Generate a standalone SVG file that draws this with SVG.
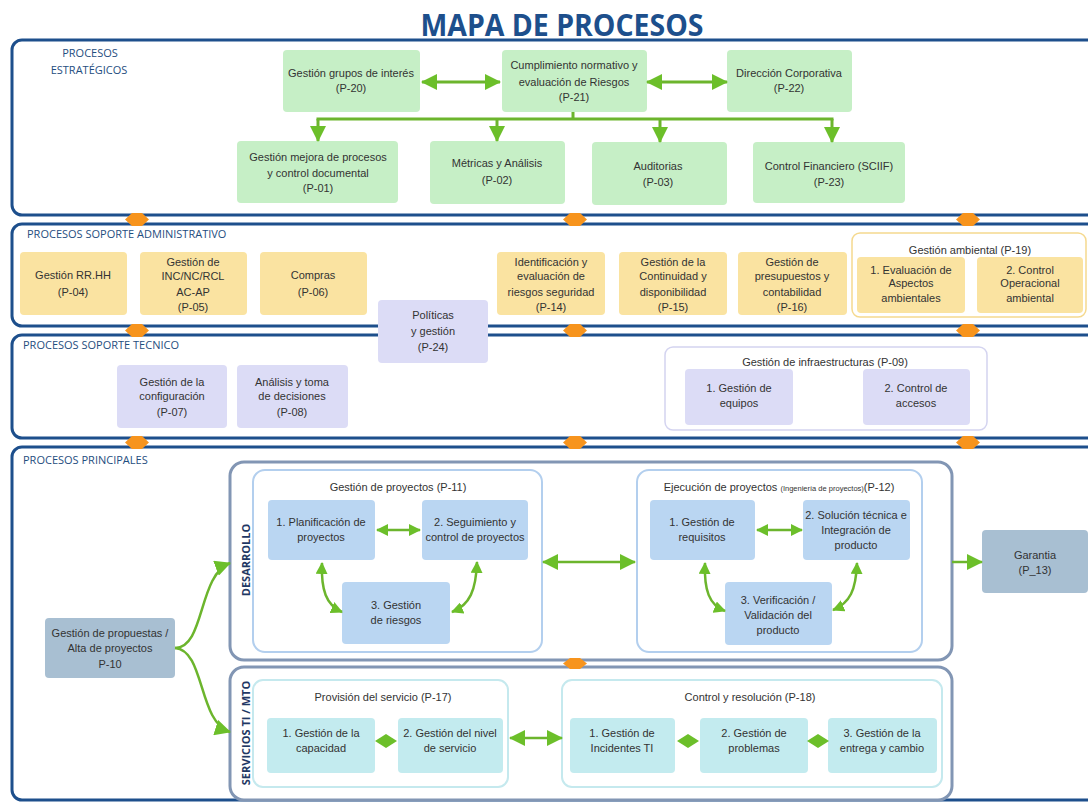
<svg xmlns="http://www.w3.org/2000/svg" width="1088" height="803" viewBox="0 0 1088 803">
<style>
.sec{fill:none;stroke:#1d4f8c;stroke-width:3}
.lbl{font-family:"Open Sans","Liberation Sans",sans-serif;font-size:11px;fill:#1f4e80}
.vl{font-family:"Open Sans","Liberation Sans",sans-serif;font-size:11px;font-weight:bold;fill:#1f3864;text-anchor:middle}
.t{font-family:"Liberation Sans",Arial,sans-serif;font-size:11px;fill:#333;text-anchor:middle}
.ts{font-size:7.5px}
.g{fill:#c6efc6}
.y{fill:#fae3a1}
.v{fill:#dcdcf6}
.b{fill:#bad6f2}
.c{fill:#c3ebef}
.s{fill:#a8bfd2}
.cn{fill:none;stroke:#6cb52d;stroke-width:2.5}
.cnL{fill:none;stroke:#6cb52d;stroke-width:3}
.or{fill:#f7941d}
.dm{fill:#6cbf2a}
.grp{fill:#fff;stroke:#8296b4;stroke-width:3}
.sub{fill:#fff;stroke:#b3cfee;stroke-width:2}
.subc{fill:#fff;stroke:#c5e9ee;stroke-width:2}
</style>
<defs>
<marker id="aL" viewBox="0 0 16 16" markerWidth="16" markerHeight="16" refX="15" refY="8" orient="auto-start-reverse" markerUnits="userSpaceOnUse"><path d="M0,0 L16,8 L0,16 z" fill="#6cbf2a"/></marker>
<marker id="aS" viewBox="0 0 12 12" markerWidth="12" markerHeight="12" refX="11" refY="6" orient="auto-start-reverse" markerUnits="userSpaceOnUse"><path d="M0,0 L12,6 L0,12 z" fill="#6cbf2a"/></marker>
</defs>
<rect x="0" y="0" width="1088" height="803" fill="#fff"/>
<text x="562" y="36" font-family="'Open Sans','Liberation Sans',sans-serif" font-weight="bold" font-size="31" fill="#1d4f8c" text-anchor="middle" textLength="283" lengthAdjust="spacingAndGlyphs">MAPA DE PROCESOS</text>

<g id="sections">
<rect class="sec" x="12" y="40" width="1090" height="175" rx="10"/>
<rect class="sec" x="12" y="224" width="1090" height="102" rx="10"/>
<rect class="sec" x="12" y="335" width="1090" height="103" rx="10"/>
<rect class="sec" x="12" y="447" width="1090" height="353" rx="10"/>
<text class="lbl" x="90" y="57" text-anchor="middle">PROCESOS</text>
<text class="lbl" x="89" y="74" text-anchor="middle">ESTRATÉGICOS</text>
<text class="lbl" x="27" y="238">PROCESOS SOPORTE ADMINISTRATIVO</text>
<text class="lbl" x="23" y="349">PROCESOS SOPORTE TECNICO</text>
<text class="lbl" x="23" y="464">PROCESOS PRINCIPALES</text>
</g>

<g id="section-links">
<path class="or" d="M125,219.5 L132,213 L142,213 L149,219.5 L142,226 L132,226 Z"/>
<path class="or" d="M563,219.5 L570,213 L580,213 L587,219.5 L580,226 L570,226 Z"/>
<path class="or" d="M956,219.5 L963,213 L973,213 L980,219.5 L973,226 L963,226 Z"/>
<path class="or" d="M125,330.5 L132,324 L142,324 L149,330.5 L142,337 L132,337 Z"/>
<path class="or" d="M563,330.5 L570,324 L580,324 L587,330.5 L580,337 L570,337 Z"/>
<path class="or" d="M956,330.5 L963,324 L973,324 L980,330.5 L973,337 L963,337 Z"/>
<path class="or" d="M125,442.5 L132,436 L142,436 L149,442.5 L142,449 L132,449 Z"/>
<path class="or" d="M563,442.5 L570,436 L580,436 L587,442.5 L580,449 L570,449 Z"/>
<path class="or" d="M956,442.5 L963,436 L973,436 L980,442.5 L973,449 L963,449 Z"/>
</g>

<!-- Estratégicos -->
<g id="p20"><rect class="g" x="283" y="50" width="137" height="62" rx="4"/><text class="t"><tspan x="351" y="77">Gestión grupos de interés</tspan><tspan x="351" y="92">(P-20)</tspan></text></g>
<g id="p21"><rect class="g" x="502" y="50" width="145" height="62" rx="4"/><text class="t"><tspan x="574" y="69">Cumplimiento normativo y</tspan><tspan x="574" y="86">evaluación de Riesgos</tspan><tspan x="574" y="101">(P-21)</tspan></text></g>
<g id="p22"><rect class="g" x="727" y="50" width="125" height="62" rx="4"/><text class="t"><tspan x="789" y="77">Dirección Corporativa</tspan><tspan x="789" y="92">(P-22)</tspan></text></g>
<g id="p01"><rect class="g" x="237" y="141" width="161" height="62" rx="4"/><text class="t"><tspan x="318" y="161">Gestión mejora de procesos</tspan><tspan x="318" y="177">y control documental</tspan><tspan x="318" y="192">(P-01)</tspan></text></g>
<g id="p02"><rect class="g" x="430" y="141" width="135" height="63" rx="4"/><text class="t"><tspan x="497" y="167">Métricas y Análisis</tspan><tspan x="497" y="184">(P-02)</tspan></text></g>
<g id="p03"><rect class="g" x="592" y="142" width="135" height="63" rx="4"/><text class="t"><tspan x="658" y="170">Auditorias</tspan><tspan x="658" y="186">(P-03)</tspan></text></g>
<g id="p23"><rect class="g" x="753" y="142" width="152" height="61" rx="4"/><text class="t"><tspan x="829" y="170">Control Financiero (SCIIF)</tspan><tspan x="829" y="186">(P-23)</tspan></text></g>

<!-- Soporte administrativo -->
<g id="p04"><rect class="y" x="20" y="252" width="107" height="63" rx="4"/><text class="t"><tspan x="73" y="279">Gestión RR.HH</tspan><tspan x="73" y="296">(P-04)</tspan></text></g>
<g id="p05"><rect class="y" x="140" y="252" width="107" height="63" rx="4"/><text class="t"><tspan x="193" y="266">Gestión de</tspan><tspan x="193" y="280">INC/NC/RCL</tspan><tspan x="193" y="296">AC-AP</tspan><tspan x="193" y="311">(P-05)</tspan></text></g>
<g id="p06"><rect class="y" x="260" y="252" width="107" height="63" rx="4"/><text class="t"><tspan x="313" y="279">Compras</tspan><tspan x="313" y="296">(P-06)</tspan></text></g>
<g id="p14"><rect class="y" x="497" y="252" width="108" height="63" rx="4"/><text class="t"><tspan x="551" y="266">Identificación y</tspan><tspan x="551" y="280">evaluación de</tspan><tspan x="551" y="296">riesgos seguridad</tspan><tspan x="551" y="311">(P-14)</tspan></text></g>
<g id="p15"><rect class="y" x="619" y="252" width="108" height="63" rx="4"/><text class="t"><tspan x="673" y="266">Gestión de la</tspan><tspan x="673" y="280">Continuidad y</tspan><tspan x="673" y="296">disponibilidad</tspan><tspan x="673" y="311">(P-15)</tspan></text></g>
<g id="p16"><rect class="y" x="738" y="252" width="109" height="63" rx="4"/><text class="t"><tspan x="792" y="266">Gestión de</tspan><tspan x="792" y="280">presupuestos y</tspan><tspan x="792" y="296">contabilidad</tspan><tspan x="792" y="311">(P-16)</tspan></text></g>
<g id="p19"><rect x="852" y="233" width="234" height="84" rx="8" fill="#fff" stroke="#f5d98e" stroke-width="1.5"/><text class="t" x="970" y="254">Gestión ambiental (P-19)</text>
<rect class="y" x="857" y="257" width="108" height="56" rx="4"/><text class="t"><tspan x="911" y="274">1. Evaluación de</tspan><tspan x="911" y="287">Aspectos</tspan><tspan x="911" y="302">ambientales</tspan></text>
<rect class="y" x="977" y="257" width="106" height="56" rx="4"/><text class="t"><tspan x="1030" y="274">2. Control</tspan><tspan x="1030" y="287">Operacional</tspan><tspan x="1030" y="302">ambiental</tspan></text></g>

<!-- Soporte técnico -->
<g id="p24"><rect class="v" x="378" y="300" width="110" height="63" rx="4"/><text class="t"><tspan x="433" y="319">Políticas</tspan><tspan x="433" y="335">y gestión</tspan><tspan x="433" y="351">(P-24)</tspan></text></g>
<g id="p07"><rect class="v" x="117" y="365" width="110" height="63" rx="4"/><text class="t"><tspan x="172" y="386">Gestión de la</tspan><tspan x="172" y="400">configuración</tspan><tspan x="172" y="416">(P-07)</tspan></text></g>
<g id="p08"><rect class="v" x="237" y="365" width="111" height="63" rx="4"/><text class="t"><tspan x="292" y="386">Análisis y toma</tspan><tspan x="292" y="400">de decisiones</tspan><tspan x="292" y="416">(P-08)</tspan></text></g>
<g id="p09"><rect x="665" y="347" width="322" height="83" rx="8" fill="#fff" stroke="#d4d4f0" stroke-width="1.5"/><text class="t" x="825" y="366">Gestión de infraestructuras (P-09)</text>
<rect class="v" x="685" y="369" width="108" height="56" rx="4"/><text class="t"><tspan x="739" y="392">1. Gestión de</tspan><tspan x="739" y="407">equipos</tspan></text>
<rect class="v" x="863" y="369" width="107" height="56" rx="4"/><text class="t"><tspan x="916" y="392">2. Control de</tspan><tspan x="916" y="407">accesos</tspan></text></g>

<!-- Principales -->
<g id="p10"><rect class="s" x="45" y="618" width="130" height="60" rx="4"/><text class="t"><tspan x="110" y="637">Gestión de propuestas /</tspan><tspan x="110" y="652">Alta de proyectos</tspan><tspan x="110" y="668">P-10</tspan></text></g>

<g id="desarrollo"><rect class="grp" x="230" y="462" width="722" height="198" rx="14"/><text class="vl" transform="translate(250,560) rotate(-90)">DESARROLLO</text></g>
<g id="servicios"><rect class="grp" x="230" y="667" width="722" height="133" rx="14"/><text class="vl" transform="translate(250,733) rotate(-90)">SERVICIOS TI / MTO</text></g>
<path class="or" d="M563,663.5 L570,658 L580,658 L587,663.5 L580,669 L570,669 Z"/>

<g id="p11"><rect class="sub" x="253" y="470" width="289" height="182" rx="12"/><text class="t" x="398" y="491">Gestión de proyectos (P-11)</text>
<rect class="b" x="268" y="500" width="107" height="60" rx="4"/><text class="t"><tspan x="321" y="526">1. Planificación de</tspan><tspan x="321" y="541">proyectos</tspan></text>
<rect class="b" x="422" y="500" width="106" height="60" rx="4"/><text class="t"><tspan x="475" y="526">2. Seguimiento y</tspan><tspan x="475" y="541">control de proyectos</tspan></text>
<rect class="b" x="342" y="582" width="108" height="62" rx="4"/><text class="t"><tspan x="396" y="609">3. Gestión</tspan><tspan x="396" y="624">de riesgos</tspan></text></g>

<g id="p12"><rect class="sub" x="637" y="470" width="285" height="182" rx="12"/><text class="t" x="779" y="491">Ejecución de proyectos <tspan class="ts">(Ingeniería de proyectos)</tspan>(P-12)</text>
<rect class="b" x="650" y="500" width="105" height="60" rx="4"/><text class="t"><tspan x="702" y="526">1. Gestión de</tspan><tspan x="702" y="541">requisitos</tspan></text>
<rect class="b" x="803" y="500" width="107" height="60" rx="4"/><text class="t"><tspan x="856" y="519">2. Solución técnica e</tspan><tspan x="856" y="534">Integración de</tspan><tspan x="856" y="549">producto</tspan></text>
<rect class="b" x="725" y="582" width="107" height="63" rx="4"/><text class="t"><tspan x="778" y="604">3. Verificación /</tspan><tspan x="778" y="619">Validación del</tspan><tspan x="778" y="634">producto</tspan></text></g>

<g id="p13"><rect class="s" x="982" y="530" width="106" height="63" rx="4"/><text class="t"><tspan x="1035" y="559">Garantia</tspan><tspan x="1035" y="574">(P_13)</tspan></text></g>

<g id="p17"><rect class="subc" x="253" y="680" width="255" height="107" rx="10"/><text class="t" x="383" y="701">Provisión del servicio (P-17)</text>
<rect class="c" x="267" y="718" width="108" height="55" rx="4"/><text class="t"><tspan x="321" y="737">1. Gestión de la</tspan><tspan x="321" y="752">capacidad</tspan></text>
<rect class="c" x="398" y="718" width="105" height="55" rx="4"/><text class="t"><tspan x="450" y="737">2. Gestión del nivel</tspan><tspan x="450" y="752">de servicio</tspan></text></g>

<g id="p18"><rect class="subc" x="562" y="680" width="380" height="107" rx="10"/><text class="t" x="750" y="701">Control y resolución (P-18)</text>
<rect class="c" x="570" y="718" width="105" height="55" rx="4"/><text class="t"><tspan x="622" y="737">1. Gestión de</tspan><tspan x="622" y="752">Incidentes TI</tspan></text>
<rect class="c" x="700" y="718" width="108" height="55" rx="4"/><text class="t"><tspan x="754" y="737">2. Gestión de</tspan><tspan x="754" y="752">problemas</tspan></text>
<rect class="c" x="828" y="718" width="109" height="55" rx="4"/><text class="t"><tspan x="882" y="737">3. Gestión de la</tspan><tspan x="882" y="752">entrega y cambio</tspan></text></g>

<g id="connectors">
<path class="cnL" d="M422,82 H500" marker-start="url(#aL)" marker-end="url(#aL)"/>
<path class="cnL" d="M647,82 H727" marker-start="url(#aL)" marker-end="url(#aL)"/>
<path class="cnL" d="M573,112 V119 M316.5,119 H833.5"/>
<path class="cnL" d="M318,119 V141" marker-end="url(#aL)"/>
<path class="cnL" d="M497,119 V141" marker-end="url(#aL)"/>
<path class="cnL" d="M660,119 V142" marker-end="url(#aL)"/>
<path class="cnL" d="M832,119 V142" marker-end="url(#aL)"/>
<path class="cn" d="M175,648 C205,648 198,575 230,563" marker-end="url(#aL)"/>
<path class="cn" d="M175,648 C205,650 198,722 230,732" marker-end="url(#aL)"/>
<path class="cn" d="M377,530 H420" marker-start="url(#aS)" marker-end="url(#aS)"/>
<path class="cn" d="M322,563 C321,590 326,605 342,612" marker-start="url(#aS)" marker-end="url(#aS)"/>
<path class="cn" d="M477,562 C476,590 470,605 452,612" marker-start="url(#aS)" marker-end="url(#aS)"/>
<path class="cn" d="M543,562 H635" marker-start="url(#aL)" marker-end="url(#aL)"/>
<path class="cn" d="M757,530 H802" marker-start="url(#aS)" marker-end="url(#aS)"/>
<path class="cn" d="M705,563 C704,590 709,605 725,611" marker-start="url(#aS)" marker-end="url(#aS)"/>
<path class="cn" d="M857,563 C856,590 850,603 833,610" marker-start="url(#aS)" marker-end="url(#aS)"/>
<path class="cn" d="M952,562 H982" marker-end="url(#aL)"/>
<path class="cn" d="M510,738 H562" marker-start="url(#aL)" marker-end="url(#aL)"/>
<path class="dm" d="M375,741 L386,734 L397,741 L386,748 Z"/>
<path class="dm" d="M677,741 L688,734 L699,741 L688,748 Z"/>
<path class="dm" d="M807,741 L818,734 L829,741 L818,748 Z"/>
</g>
</svg>
